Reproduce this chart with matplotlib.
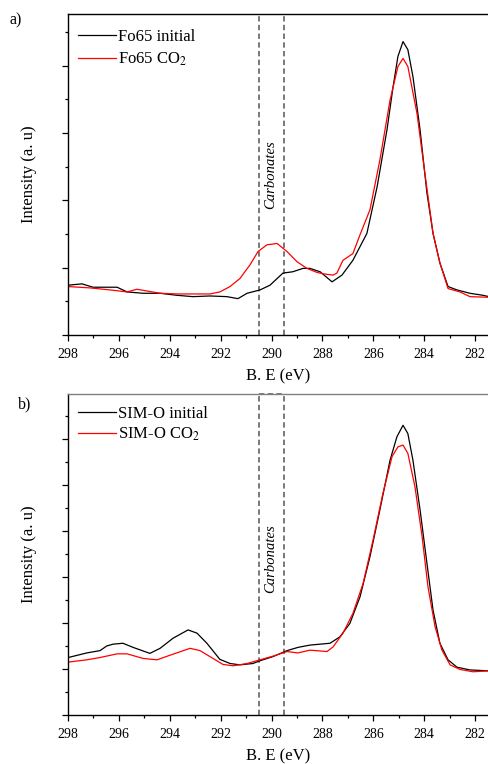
import numpy as np
import matplotlib as mpl
import matplotlib.pyplot as plt
mpl.use('agg')

plt.rcParams['font.family'] = ['Liberation Serif', 'DejaVu Serif']
plt.rcParams['mathtext.fontset'] = 'stix'

##--##--  panel a : Fo65  --##--##
e_a_init = [298.00, 297.45, 297.02, 296.07, 295.68, 295.05, 294.38, 293.72, 293.09, 292.42,
            291.75, 291.32, 290.96, 290.45, 290.06, 289.55, 289.16, 288.76, 288.49, 288.09,
            287.62, 287.23, 286.80, 286.25, 285.85, 285.46, 285.22, 285.03, 284.83, 284.64,
            284.44, 284.16, 283.89, 283.65, 283.38, 283.06, 282.71, 282.20, 281.69, 281.45]
i_a_init = [0.74, 0.76, 0.71, 0.71, 0.64, 0.62, 0.62, 0.59, 0.57, 0.58,
            0.57, 0.54, 0.62, 0.67, 0.74, 0.92, 0.94, 0.99, 0.99, 0.94,
            0.79, 0.89, 1.11, 1.51, 2.20, 3.05, 3.69, 4.14, 4.36, 4.24,
            3.84, 3.05, 2.11, 1.51, 1.07, 0.72, 0.67, 0.62, 0.59, 0.57]

e_a_co2 = [298.00, 297.14, 296.35, 295.68, 295.29, 294.38, 293.72, 293.09, 292.42, 292.03,
           291.63, 291.24, 290.85, 290.53, 290.18, 289.78, 289.39, 289.00, 288.61, 288.21,
           287.98, 287.58, 287.43, 287.19, 286.80, 286.52, 286.13, 285.74, 285.34, 285.03,
           284.83, 284.64, 284.28, 283.97, 283.65, 283.38, 283.06, 282.59, 282.20, 281.45]
i_a_co2 = [0.72, 0.70, 0.67, 0.64, 0.68, 0.62, 0.61, 0.61, 0.61, 0.64,
           0.72, 0.84, 1.04, 1.24, 1.34, 1.36, 1.24, 1.09, 0.99, 0.93,
           0.91, 0.89, 0.92, 1.11, 1.21, 1.49, 1.86, 2.60, 3.49, 3.99,
           4.11, 3.99, 3.29, 2.40, 1.51, 1.07, 0.69, 0.64, 0.57, 0.56]

##--##--  panel b : SIM-O  --##--##
e_b_init = [297.99, 297.26, 296.74, 296.48, 296.23, 295.84, 295.44, 294.78, 294.38, 293.87,
            293.28, 292.93, 292.54, 292.03, 291.63, 291.24, 290.73, 290.45, 289.94, 289.39,
            288.96, 288.49, 287.70, 287.31, 286.92, 286.52, 286.13, 285.74, 285.34, 285.07,
            284.83, 284.64, 284.44, 284.16, 283.89, 283.65, 283.38, 283.06, 282.71, 282.20, 281.45]
i_b_init = [1.25, 1.35, 1.40, 1.50, 1.54, 1.56, 1.47, 1.34, 1.45, 1.67,
            1.85, 1.78, 1.56, 1.21, 1.12, 1.09, 1.12, 1.18, 1.27, 1.40,
            1.47, 1.52, 1.56, 1.70, 1.99, 2.57, 3.44, 4.46, 5.54, 6.05,
            6.30, 6.12, 5.54, 4.46, 3.30, 2.28, 1.56, 1.20, 1.04, 0.98, 0.96]

e_b_co2 = [297.99, 297.26, 296.74, 296.07, 295.68, 295.05, 294.50, 293.99, 293.20, 292.81,
           292.42, 291.91, 291.51, 290.96, 290.45, 289.94, 289.39, 288.96, 288.49, 287.82,
           287.58, 287.19, 286.80, 286.40, 286.01, 285.62, 285.26, 285.03, 284.83, 284.64,
           284.36, 284.08, 283.85, 283.57, 283.30, 282.98, 282.59, 282.08, 281.45]
i_b_co2 = [1.15, 1.20, 1.25, 1.33, 1.33, 1.23, 1.20, 1.30, 1.45, 1.40,
           1.27, 1.10, 1.07, 1.12, 1.20, 1.28, 1.38, 1.35, 1.41, 1.38,
           1.48, 1.78, 2.21, 2.86, 3.80, 4.82, 5.62, 5.83, 5.87, 5.69,
           4.96, 3.88, 2.79, 1.92, 1.41, 1.09, 0.99, 0.94, 0.96]

carb_lo, carb_hi = 289.5, 290.5


##--##--##--  create figure  --##--##--##
fig = plt.figure(dpi=100, figsize=(4.89, 7.64))


def create_map(ax, ymax):
  ax.set_xlim(298.0, 281.45)
  ax.set_ylim(0.0, ymax)
  ax.set_xticks(np.arange(298, 281, -2))
  ax.set_xticks(np.arange(297, 281, -2), minor=True)
  ax.set_yticks(np.arange(0, ymax, 1.0))
  ax.set_yticks(np.arange(0.5, ymax, 1.0), minor=True)
  ax.set_yticklabels([])
  ax.tick_params(axis='both', which='major', direction='out', length=4.5, width=0.9, labelsize=10)
  ax.tick_params(axis='both', which='minor', direction='out', length=2.3, width=0.9)
  ax.tick_params(axis='x', pad=5)
  for s in ['bottom', 'top', 'left']:
    ax.spines[s].set_linewidth(1.0)
  ax.spines['right'].set_visible(False)
  ax.set_xlabel('B. E (eV)', size=12, labelpad=5)
  ax.set_ylabel('Intensity (a. u)', size=12, labelpad=14)
  ax.axvline(carb_lo, color='#555555', linestyle=(0, (3.5, 2.2)), linewidth=1.1)
  ax.axvline(carb_hi, color='#555555', linestyle=(0, (3.5, 2.2)), linewidth=1.1)
  return ax


ax1 = fig.add_axes([68/489, 1-335/764, 1-68/489, 321/764])
create_map(ax1, 4.77)
ax1.plot(e_a_init, i_a_init, color='black', linewidth=0.9, label='Fo65 initial')
ax1.plot(e_a_co2, i_a_co2, color='#ff0000', linewidth=0.9, label='Fo65 CO$_2$')
ax1.legend(loc='upper left', bbox_to_anchor=(-0.005, 0.99), fontsize=12, frameon=False,
           handlelength=2.3, handletextpad=0.1, labelspacing=0.35, borderaxespad=0.3)
ax1.text(290.05, 2.38, 'Carbonates', rotation=90, style='italic', fontsize=10.5,
         ha='center', va='center')
fig.text(10/489, 1-20/764, 'a)', fontsize=11.5, va='center')


ax2 = fig.add_axes([68/489, 1-715/764, 1-68/489, 321/764])
create_map(ax2, 6.98)
ax2.spines['top'].set_color('#808080')
ax2.plot(e_b_init, i_b_init, color='black', linewidth=0.9, label='SIM-O initial')
ax2.plot(e_b_co2, i_b_co2, color='#ff0000', linewidth=0.9, label='SIM-O CO$_2$')
ax2.legend(loc='upper left', bbox_to_anchor=(-0.005, 1.0), fontsize=12, frameon=False,
           handlelength=2.3, handletextpad=0.1, labelspacing=0.25, borderaxespad=0.3)
ax2.text(290.05, 3.39, 'Carbonates', rotation=90, style='italic', fontsize=10.5,
         ha='center', va='center')
ax2.plot([carb_hi, carb_lo], [6.98, 6.98], color='#555555', linestyle=(0, (3.5, 2.2)),
         linewidth=1.1, clip_on=False)
fig.text(18/489, 1-404/764, 'b)', fontsize=11.5, va='center')

fig.savefig('out.png')
